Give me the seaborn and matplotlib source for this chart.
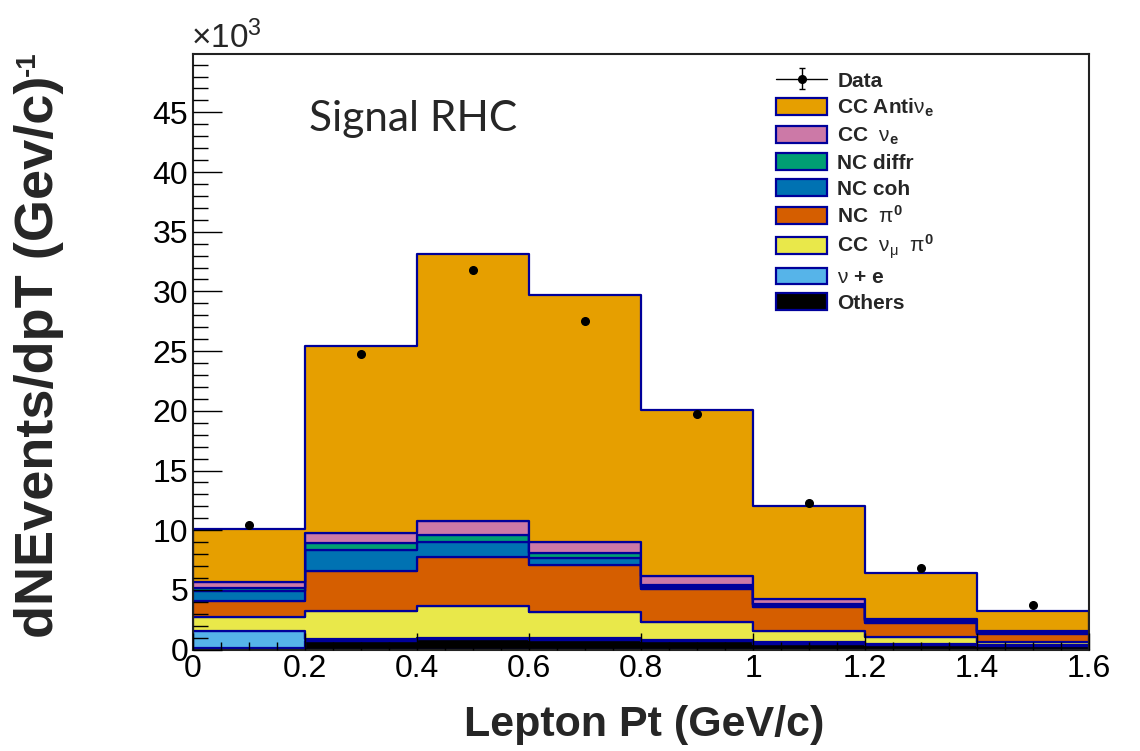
import numpy as np
import pandas as pd
import matplotlib
matplotlib.use("Agg")
import matplotlib.pyplot as plt
import seaborn as sns
from matplotlib.patches import Patch
from matplotlib.lines import Line2D
from matplotlib.ticker import MultipleLocator, FormatStrFormatter

# ---------------- data (values in units of 10^3) ----------------
bin_edges = [0.0, 0.2, 0.4, 0.6, 0.8, 1.0, 1.2, 1.4, 1.6]

component_names = ["CC Anti nue", "CC nue", "NC diffr", "NC coh",
                   "NC pi0", "CC numu pi0", "nu + e", "Others"]
legend_labels = [r"CC Anti$\mathrm{\nu}_{\mathbf{e}}$",
                 r"CC  $\mathrm{\nu}_{\mathbf{e}}$",
                 "NC diffr",
                 "NC coh",
                 r"NC  $\mathrm{\pi}^{\mathbf{0}}$",
                 r"CC  $\mathrm{\nu}_{\mathrm{\mu}}$  $\mathrm{\pi}^{\mathbf{0}}$",
                 r"$\mathrm{\nu}$ + e",
                 "Others"]

cc_antinue  = [4.45, 15.60, 22.35, 20.66, 13.89, 7.85, 3.79, 1.67]
cc_nue      = [0.45, 0.90, 1.20, 0.92, 0.74, 0.35, 0.15, 0.12]
nc_diffr    = [0.30, 0.55, 0.56, 0.47, 0.15, 0.10, 0.08, 0.06]
nc_coh      = [0.80, 1.75, 1.31, 0.57, 0.20, 0.15, 0.12, 0.08]
nc_pi0      = [1.34, 3.35, 4.08, 3.96, 2.73, 2.02, 1.22, 0.64]
cc_numu_pi0 = [1.18, 2.40, 2.65, 2.17, 1.54, 0.98, 0.58, 0.26]
nu_e        = [1.48, 0.10, 0.15, 0.15, 0.10, 0.10, 0.10, 0.10]
others      = [0.10, 0.75, 0.85, 0.80, 0.70, 0.50, 0.35, 0.30]

data_values = [10.4, 24.8, 31.8, 27.5, 19.7, 12.3, 6.8, 3.7]
data_errors = [0.12, 0.15, 0.16, 0.15, 0.13, 0.12, 0.10, 0.08]

colors = ["#E69F00", "#CC79A7", "#009E73", "#0072B2",
          "#D55E00", "#E9E84A", "#56B4E9", "#000000"]
edge = "#00009A"

# ---------------- build table ----------------
series = [cc_antinue, cc_nue, nc_diffr, nc_coh, nc_pi0, cc_numu_pi0, nu_e, others]
edges = np.array(bin_edges)
centers = (edges[:-1] + edges[1:]) / 2
rows = []
for name, vals in zip(component_names, series):
    for c, v in zip(centers, vals):
        rows.append({"pt": c, "w": v, "comp": name})
df = pd.DataFrame(rows)
palette = dict(zip(component_names, colors))

# ---------------- style ----------------
sns.set_style("ticks")
plt.rcParams["font.family"] = ["Liberation Sans", "DejaVu Sans"]
plt.rcParams["mathtext.fontset"] = "custom"
plt.rcParams["mathtext.rm"] = "Liberation Sans"
plt.rcParams["mathtext.it"] = "Liberation Sans:italic"
plt.rcParams["mathtext.bf"] = "Liberation Sans:bold"

W, H = 1140, 751
fig = plt.figure(figsize=(W / 100, H / 100), dpi=100)
ax_left, ax_right, ax_top, ax_bottom = 193, 1089, 54.3, 649.6
ax = fig.add_axes([ax_left / W, 1 - ax_bottom / H,
                   (ax_right - ax_left) / W, (ax_bottom - ax_top) / H])

sns.histplot(data=df, x="pt", weights="w", hue="comp", hue_order=component_names,
             multiple="stack", bins=bin_edges, element="step", fill=True,
             palette=palette, alpha=1, edgecolor=edge, linewidth=1.6,
             legend=False, ax=ax)

err = ax.errorbar(centers, data_values, yerr=data_errors, fmt="o", color="black",
                  ms=5.5, elinewidth=1.0, capsize=2.5, capthick=1.0, zorder=5)

ax.set_xlim(0, 1.6)
ax.set_ylim(0, 49.86)
ax.set_xlabel("")
ax.set_ylabel("")
ax.xaxis.set_major_locator(MultipleLocator(0.2))
ax.xaxis.set_minor_locator(MultipleLocator(0.05))
ax.yaxis.set_major_locator(MultipleLocator(5))
ax.yaxis.set_minor_locator(MultipleLocator(1))
ax.xaxis.set_major_formatter(FormatStrFormatter("%g"))
ax.set_axisbelow(False)
ax.tick_params(which="both", direction="in", top=False, right=False, colors="black")
ax.tick_params(axis="y", which="major", length=21, width=1, pad=3.5, labelsize=23)
ax.tick_params(axis="y", which="minor", length=11, width=1)
ax.tick_params(axis="x", which="major", length=12, width=1, pad=3, labelsize=23)
ax.tick_params(axis="x", which="minor", length=6, width=1)
for s in ax.spines.values():
    s.set_visible(True)
    s.set_linewidth(1.5)
    s.set_color("#222222")

# ---------------- texts ----------------
fig.text(644 / W, 1 - 725 / H, "Lepton Pt (GeV/c)", ha="center", va="center",
         fontsize=31, fontweight="bold")
fig.text(39 / W, 1 - 357 / H, "dNEvents/dpT (Gev/c)", ha="center",
         va="center", rotation=90, fontsize=39, fontweight="bold")
fig.text(28 / W, 1 - 64 / H, "-1", ha="center", va="center", rotation=90,
         fontsize=20, fontweight="bold")
fig.text(191 / W, 1 - 48 / H, r"$\times$10$^{3}$", ha="left", va="baseline", fontsize=24)
fig.text(309 / W, 1 - 131 / H, "Signal RHC", ha="left", va="baseline", fontsize=30.5,
         family=["Lato", "DejaVu Sans"])

# ---------------- legend ----------------
handles = [(Line2D([0], [0], color="black", lw=1.0), err)]
for c in colors:
    handles.append(Patch(facecolor=c, edgecolor=edge, linewidth=1.6))
labels = ["Data"] + legend_labels
leg = ax.legend(handles, labels, loc="upper left",
                bbox_to_anchor=(776 / W, 1 - 71 / H), bbox_transform=fig.transFigure,
                frameon=False, borderpad=0, borderaxespad=0,
                handlelength=2.45, handleheight=0.87, handletextpad=0.5,
                labelspacing=0.3, prop={"weight": "bold", "size": 15})

fig.savefig("out.png", dpi=100)
